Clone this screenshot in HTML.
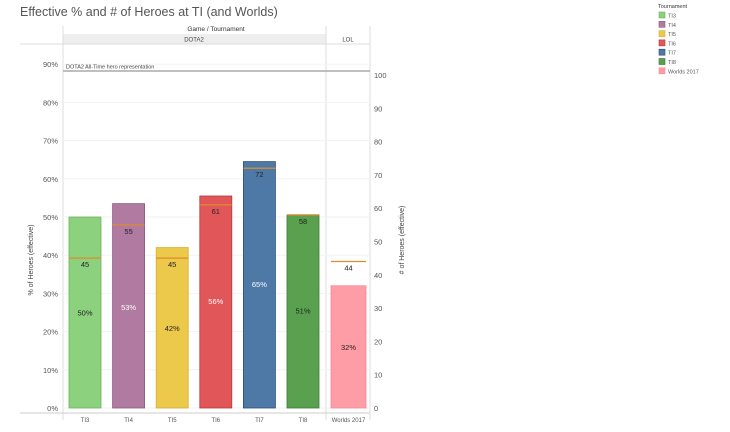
<!DOCTYPE html>
<html><head><meta charset="utf-8"><style>
body{margin:0;background:#fff;font-family:"Liberation Sans",sans-serif}
svg text{font-family:"Liberation Sans",sans-serif}
</style></head><body>
<svg id="c" width="730" height="427" xmlns="http://www.w3.org/2000/svg">
<text x="20" y="16" font-size="12.5" fill="#555">Effective % and # of Heroes at TI (and Worlds)</text>
<text x="216" y="31" font-size="6.5" fill="#333" text-anchor="middle">Game / Tournament</text>
<rect x="63" y="34" width="263" height="10" fill="#eee"/>
<text x="194" y="41.5" font-size="6" fill="#444" text-anchor="middle">DOTA2</text>
<text x="348" y="41.5" font-size="6" fill="#444" text-anchor="middle">LOL</text>
<line x1="20" y1="44" x2="370" y2="44" stroke="#ddd"/>
<line x1="63" y1="26" x2="63" y2="420" stroke="#ddd"/>
<line x1="326" y1="26" x2="326" y2="420" stroke="#ddd"/>
<line x1="370" y1="26" x2="370" y2="420" stroke="#ddd"/>
<line x1="20" y1="413" x2="370" y2="413" stroke="#ccc"/>
<g id="grid"></g><g id="bars"></g><g id="axes"></g>
<line x1="63" y1="71" x2="370" y2="71" stroke="#aaa" stroke-width="1.5"/>
<text x="66" y="68.5" font-size="5.5" fill="#444">DOTA2 All-Time hero representation</text>
<text transform="translate(33,260) rotate(-90)" font-size="7" fill="#444" text-anchor="middle">% of Heroes (effective)</text>
<text transform="translate(404,240) rotate(-90)" font-size="7" fill="#444" text-anchor="middle"># of Heroes (effective)</text>
<g id="legend"></g>
</svg>
<script>
const categories=["TI3","TI4","TI5","TI6","TI7","TI8","Worlds 2017"];
const pctValues=[50,53,42,56,65,51,32];
const pctTopValues=[50,53.5,42,55.5,64.5,50.5,32];
const countValues=[45,55,45,61,72,58,44];
const colors=["#8cd17d","#b07aa1","#ecc94b","#e15759","#4e79a7","#59a14f","#ff9da7"];
const strokes=["#6fb060","#8a5a80","#d4b030","#b8383a","#2a4f7a","#3b7a35","#f38a95"];
const pctTicks=[0,10,20,30,40,50,60,70,80,90];
const countTicks=[0,10,20,30,40,50,60,70,80,90,100];
const NS="http://www.w3.org/2000/svg";
const yP=v=>408-v*3.82, yC=v=>408-v*3.33;
const xC=i=>i<6?85+i*43.6:348.5;
function mk(t,a,p){const e=document.createElementNS(NS,t);for(const k in a)e.setAttribute(k,a[k]);p.appendChild(e);return e;}
const grid=document.getElementById('grid'),bars=document.getElementById('bars'),axes=document.getElementById('axes');
pctTicks.forEach(v=>{mk('line',{x1:63,x2:370,y1:yP(v),y2:yP(v),stroke:'#f2f2f2'},grid);
 const t=mk('text',{x:58,y:yP(v)+3,'font-size':7.5,fill:'#555','text-anchor':'end'},axes);t.textContent=v+'%';
 
 });
countTicks.forEach(v=>{const t=mk('text',{x:374,y:yC(v)+3,'font-size':7.5,fill:'#555'},axes);t.textContent=v;
 
 });
categories.forEach((c,i)=>{
 const w=i<6?32:35,x=xC(i)-w/2,top=yP(pctTopValues[i]);
 const r=mk('rect',{x:x,y:top,width:w,height:408-top,fill:colors[i],stroke:strokes[i],'stroke-width':0.8},bars);
 
 
 const pl=mk('text',{x:xC(i),y:yP(pctValues[i]/2)+3,'font-size':7.5,fill:(i==3||i==4||i==1)?'#fff':'#222','text-anchor':'middle'},bars);pl.textContent=pctValues[i]+'%';
 
 
 const ly=yC(countValues[i]);
 const l=mk('line',{x1:x,x2:x+w,y1:ly,y2:ly,stroke:'#e08a2c','stroke-width':1.2},bars);
 
 
 const cl=mk('text',{x:xC(i),y:ly+9,'font-size':7.5,fill:'#222','text-anchor':'middle'},bars);cl.textContent=countValues[i];
 
 
 const xl=mk('text',{x:xC(i),y:422,'font-size':6,fill:'#555','text-anchor':'middle'},axes);xl.textContent=c;
 
 
});
const lg=document.getElementById('legend');
const lt=mk('text',{x:658,y:8,'font-size':5.5,fill:'#333'},lg);lt.textContent='Tournament';


categories.forEach((c,i)=>{const y=12+i*9.3;
 const s=mk('rect',{x:659,y:y,width:6,height:6,fill:colors[i],stroke:strokes[i],'stroke-width':0.6},lg);
 
 
 const t=mk('text',{x:668,y:y+5.5,'font-size':5.5,fill:'#555'},lg);t.textContent=c;
 
 });
</script></body></html>
